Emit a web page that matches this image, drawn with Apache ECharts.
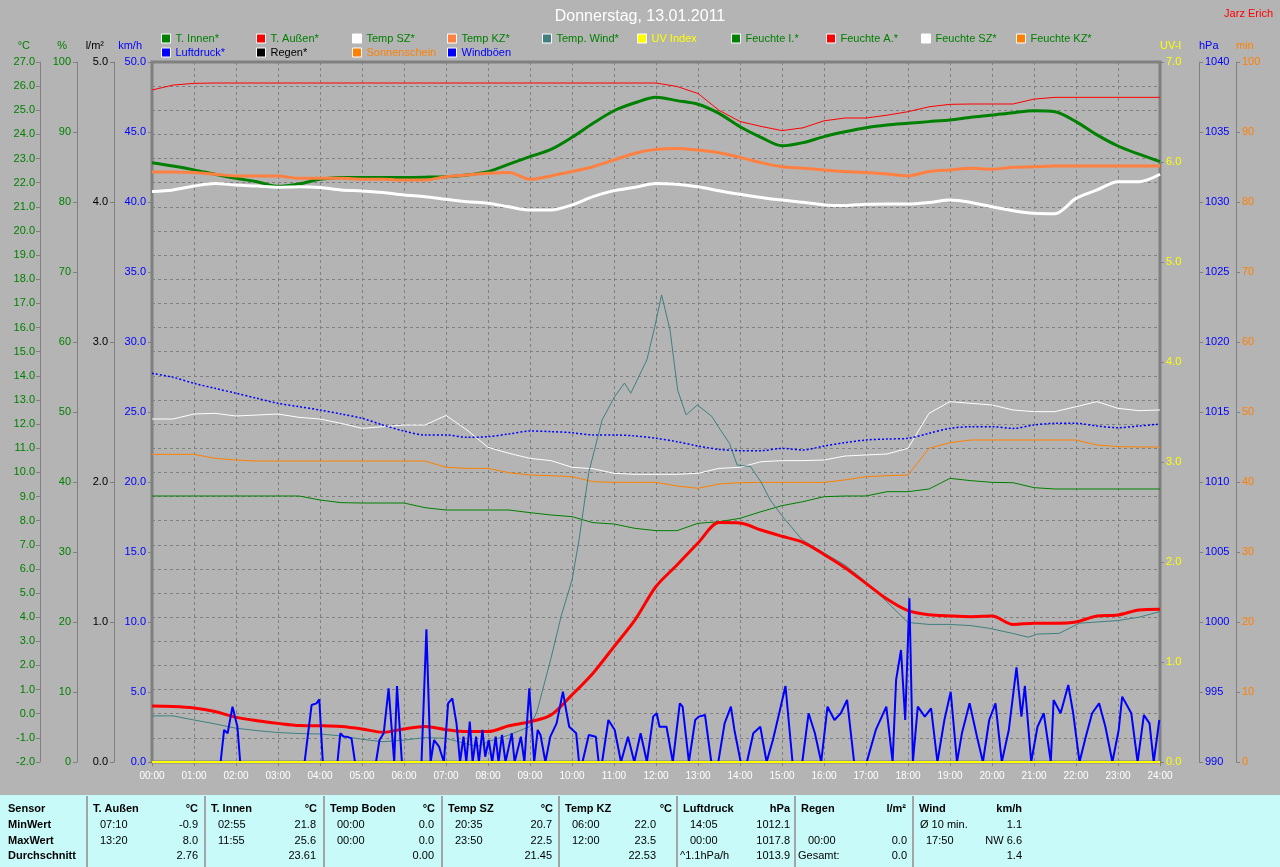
<!DOCTYPE html>
<html>
<head>
<meta charset="utf-8">
<script src="https://cdn.jsdelivr.net/npm/echarts@6/dist/echarts.min.js"></script>
<style>
html,body{margin:0;padding:0;background:#b4b4b4;}
#chart{width:1280px;height:867px;}
</style>
</head>
<body>
<div id="chart"></div>
<script>
// ---------- data (half-hourly 00:00 .. 24:00 unless noted) ----------
const tInnen = [22.83,22.69,22.53,22.35,22.18,22.04,21.85,21.95,22.14,22.21,22.22,22.22,22.22,22.23,22.25,22.32,22.46,22.77,23.08,23.38,23.88,24.46,24.98,25.31,25.54,25.40,25.25,24.87,24.32,23.88,23.53,23.66,23.91,24.11,24.28,24.39,24.46,24.53,24.60,24.71,24.80,24.90,24.98,24.94,24.53,23.98,23.52,23.18,22.87];
const tAussen = [0.32,0.30,0.24,0.09,-0.15,-0.29,-0.40,-0.49,-0.50,-0.53,-0.63,-0.77,-0.63,-0.53,-0.66,-0.74,-0.74,-0.50,-0.33,-0.05,0.78,1.68,2.78,3.89,5.27,6.16,7.07,7.92,7.90,7.61,7.35,7.10,6.60,6.05,5.40,4.75,4.27,4.10,4.05,4.02,4.05,3.70,3.75,3.75,3.80,4.05,4.09,4.30,4.33];
const tempSZ = [21.63,21.70,21.86,21.97,21.90,21.86,21.81,21.83,21.80,21.70,21.66,21.59,21.49,21.42,21.31,21.21,21.15,21.00,20.87,20.87,21.08,21.42,21.67,21.81,21.97,21.94,21.83,21.67,21.52,21.39,21.28,21.19,21.08,21.05,21.11,21.12,21.12,21.18,21.28,21.18,21.00,20.84,20.73,20.71,21.35,21.70,22.04,22.04,22.35];
const tempKZ = [22.44,22.44,22.42,22.35,22.28,22.28,22.28,22.18,22.18,22.18,22.14,22.14,22.11,22.11,22.25,22.32,22.39,22.42,22.14,22.28,22.46,22.66,22.94,23.22,23.38,23.42,23.35,23.24,23.05,22.83,22.66,22.60,22.53,22.46,22.42,22.36,22.28,22.46,22.53,22.60,22.56,22.64,22.66,22.69,22.69,22.69,22.69,22.69,22.69];
const feuchteI = [38.0,38.0,38.0,38.0,38.0,38.0,38.0,38.0,37.43,37.05,37.0,37.0,37.0,36.33,36.0,36.0,36.0,36.0,35.62,35.29,35.05,34.19,34.0,33.38,33.05,33.05,34.1,34.33,34.81,35.76,36.62,37.19,37.9,38.0,38.0,38.62,38.62,39.0,40.52,40.19,39.95,39.9,39.19,39.0,39.0,39.0,39.0,39.0,39.0];
const feuchteA = [96.0,96.7,96.95,97.0,97.0,97.0,97.0,97.0,97.0,97.0,97.0,97.0,97.0,97.0,97.0,97.0,97.0,97.0,97.0,97.0,97.0,97.0,97.0,97.0,97.0,96.5,95.5,93.1,91.5,90.8,90.2,90.6,91.6,92.0,92.0,92.4,92.9,93.6,93.95,94.0,94.0,94.0,94.7,94.95,94.95,94.95,94.95,94.95,94.95];
const feuchteSZ = [49.0,49.0,49.71,49.81,49.43,49.57,49.71,49.24,49.0,48.38,47.67,47.9,48.14,48.14,49.5,47.43,44.95,44.1,43.38,43.05,42.1,41.9,41.24,41.1,41.1,41.1,41.24,41.95,42.1,42.9,43.05,43.05,43.14,43.71,43.86,44.0,44.81,49.81,51.48,51.24,51.0,50.29,50.05,50.05,50.76,51.48,50.52,50.19,50.29];
const feuchteKZ = [43.95,43.95,43.95,43.38,43.14,43.0,43.0,43.0,43.0,43.0,43.0,43.0,43.0,43.0,42.1,41.95,41.95,41.33,41.0,40.9,40.76,40.05,39.95,39.95,39.95,39.43,39.1,39.71,39.9,39.95,39.95,39.95,39.95,40.3,40.76,40.9,41.0,44.81,45.62,46.0,46.0,46.0,46.0,46.0,46.0,45.29,45.05,45.0,45.0];
const luftdruck = [1017.76,1017.48,1017.05,1016.69,1016.34,1015.98,1015.62,1015.38,1015.14,1014.86,1014.55,1014.07,1013.64,1013.36,1013.36,1013.19,1013.24,1013.43,1013.64,1013.60,1013.52,1013.36,1013.36,1013.29,1013.12,1012.88,1012.57,1012.33,1012.24,1012.24,1012.40,1012.29,1012.57,1012.81,1013.00,1013.07,1013.12,1013.48,1013.83,1013.95,1013.95,1013.83,1014.07,1014.19,1014.19,1014.00,1013.88,1014.00,1014.14];
// Temp. Wind (minutes since midnight / °C)
const tempWindTimes = [0,30,60,90,120,150,180,210,240,270,300,330,360,390,420,450,465,480,510,540,550,570,585,600,610,624,643,661,675,684,707,718,728,740,751,763,779,800,809,825,836,855,870,883,900,929,960,990,1020,1050,1080,1110,1140,1170,1196,1229,1252,1265,1296,1325,1380,1410,1440];
const tempWindValues = [-0.09,-0.09,-0.26,-0.42,-0.60,-0.70,-0.78,-0.82,-0.84,-0.92,-1.06,-1.16,-1.09,-0.99,-1.02,-1.25,-1.36,-1.16,-0.88,-0.53,0.10,2.30,4.10,5.54,7.20,10.00,12.17,13.14,13.70,13.28,14.66,16.00,17.35,15.90,13.40,12.38,12.79,12.31,11.89,11.20,10.30,10.24,9.60,8.86,8.20,7.20,6.66,6.16,5.46,4.63,3.78,3.70,3.70,3.65,3.54,3.33,3.17,3.30,3.33,3.75,3.86,4.00,4.23];
// Windböen (minutes / km/h)
const windTimes = [0,98,103,108,115,122,126,218,223,228,235,239,244,265,269,274,278,285,290,320,325,331,338,346,350,357,385,392,398,403,410,417,423,429,435,440,445,449,454,458,463,467,472,476,481,486,491,495,500,505,514,518,527,532,539,546,551,555,562,569,578,587,592,596,606,610,615,624,634,638,643,652,661,670,680,689,698,707,716,721,725,735,744,754,758,767,776,781,790,799,809,818,827,832,841,850,859,869,878,887,896,905,915,929,938,947,956,965,975,984,993,1003,1021,1034,1049,1058,1063,1070,1076,1082,1087,1094,1104,1113,1122,1132,1141,1150,1157,1168,1178,1187,1196,1205,1214,1224,1235,1242,1247,1256,1265,1274,1284,1288,1298,1309,1316,1325,1334,1343,1353,1362,1372,1381,1386,1399,1408,1417,1425,1431,1439];
const windValues = [0,0,2.29,2.05,3.95,2.52,0,0,2.05,4.07,4.19,4.48,0,0,2.05,1.81,1.81,1.69,0,0,1.57,2.05,5.26,0,5.43,0,0,9.48,0,1.57,1.1,0,4.19,4.55,2.76,0,1.81,0,2.88,0,1.81,0,2.29,0.38,1.57,0,1.81,0,1.93,0,2.05,0,1.81,0,5.26,0,2.29,1.93,0,1.81,2.76,5.02,3.6,2.52,2.05,0,0,1.93,1.81,0,0,3.0,2.29,0,1.81,0,2.05,0,3.24,3.48,2.52,2.52,0,4.19,3.95,0,3.0,3.24,3.36,0,0,2.76,3.95,2.29,0,0,2.05,2.52,0,1.57,3.48,5.43,0,0,3.48,2.05,0,3.95,3.0,3.48,4.43,0,0,2.29,3.95,0,5.86,8.0,3.0,11.69,0,3.95,3.24,3.83,0,3.0,5.02,0,2.05,4.19,1.93,0,3.0,4.19,0,2.29,6.76,3.24,5.43,0,2.52,3.48,0,4.43,3.48,5.5,3.48,0,1.81,3.48,4.19,2.52,0,2.29,4.67,3.48,0,3.36,2.76,0,3.0];
// zero series (minutes / value)
const zeroTimes = [0, 1440];
const uvIndex = [0, 0];
const regen = [0, 0];
const sonnenschein = [0, 0];

// table
const rowLabels = ['Sensor','MinWert','MaxWert','Durchschnitt'];
const tableSensors = ['T. Außen','T. Innen','Temp Boden','Temp SZ','Temp KZ','Luftdruck','Regen','Wind'];
const tableUnits = ['°C','°C','°C','°C','°C','hPa','l/m²','km/h'];
const minTime = ['07:10','02:55','00:00','20:35','06:00','14:05','','Ø 10 min.'];
const minVal = ['-0.9','21.8','0.0','20.7','22.0','1012.1','','1.1'];
const maxTime = ['13:20','11:55','00:00','23:50','12:00','00:00','00:00','17:50'];
const maxVal = ['8.0','25.6','0.0','22.5','23.5','1017.8','0.0','NW 6.6'];
const avgLabel = ['','','','','','^1.1hPa/h','Gesamt:',''];
const avgVal = ['2.76','23.61','0.00','21.45','22.53','1013.9','0.0','1.4'];

// ---------- layout / styling ----------
const FONT = '"Liberation Sans", Arial, sans-serif';
const GRIDC = '#808080';
const halfHour = v => v.map((y, i) => [i * 30, y]);
const zip = (t, v) => t.map((x, i) => [x, v[i]]);

function line(name, data, yAxisIndex, color, width, extra) {
  return Object.assign({
    name, type: 'line', data, yAxisIndex, showSymbol: false, symbol: 'none',
    lineStyle: { color, width }, itemStyle: { color }, smooth: 0.3, animation: false
  }, extra || {});
}

function yAx(opts) {
  return {
    type: 'value', position: opts.pos, offset: opts.offset, min: opts.min, max: opts.max, interval: opts.interval,
    name: opts.name, nameLocation: 'end', nameGap: 16,
    nameTextStyle: { color: opts.color, fontSize: 11, fontFamily: FONT, align: opts.pos === 'left' ? 'right' : 'left',
      verticalAlign: 'middle', padding: opts.pos === 'left' ? [0, 10, 0, 0] : [0, 0, 0, 0] },
    axisLine: { show: opts.line !== false, onZero: false, lineStyle: { color: GRIDC, width: 1 } },
    axisTick: { show: true, length: 4, lineStyle: { color: GRIDC } },
    axisLabel: { color: opts.color, fontSize: 11, fontFamily: FONT, margin: opts.margin || 6,
      formatter: v => opts.dec ? v.toFixed(1) : String(v) },
    splitLine: { show: !!opts.split, lineStyle: { color: GRIDC, type: [3, 3], width: 1 } }
  };
}

const legendItems = [
  ['T. Innen*', 161, 0, '#008000', '#008000'],
  ['T. Außen*', 256, 0, '#ff0000', '#008000'],
  ['Temp SZ*', 352, 0, '#ffffff', '#008000'],
  ['Temp KZ*', 447, 0, '#ff8040', '#008000'],
  ['Temp. Wind*', 542, 0, '#408080', '#008000'],
  ['UV Index', 637, 0, '#ffff00', '#ffff00'],
  ['Feuchte I.*', 731, 0, '#008000', '#008000'],
  ['Feuchte A.*', 826, 0, '#ff0000', '#008000'],
  ['Feuchte SZ*', 921, 0, '#ffffff', '#008000'],
  ['Feuchte KZ*', 1016, 0, '#ff8000', '#008000'],
  ['Luftdruck*', 161, 1, '#0000ff', '#0000ff'],
  ['Regen*', 256, 1, '#000000', '#000000'],
  ['Sonnenschein', 352, 1, '#ff8000', '#ff8000'],
  ['Windböen', 447, 1, '#0000ff', '#0000ff']
];
const legends = legendItems.map(([n, x, row, c, tc]) => ({
  data: [n], left: x, top: row === 0 ? 33 : 47, padding: 0, itemWidth: 9, itemHeight: 9, icon: 'rect',
  selectedMode: false, itemStyle: { color: c, borderColor: '#ffffff', borderWidth: 1 },
  textStyle: { color: tc, fontSize: 11, fontFamily: FONT }
}));

// table graphics
const colLeft = [87, 205, 324, 442, 559, 677, 795, 913];
const valRight = [198, 316, 434, 552, 656, 790, 907, 1022];
const unitRight = [198, 317, 435, 553, 672, 790, 906, 1022];
const rowY = [809, 825, 841, 856];
const g = [];
g.push({ type: 'rect', shape: { x: 0, y: 795, width: 1280, height: 72 }, style: { fill: '#c8fafa' }, silent: true });
colLeft.forEach(x => g.push({ type: 'rect', shape: { x: x - 1, y: 796, width: 2, height: 71 }, style: { fill: '#a4a4a4' }, silent: true }));
function txt(s, x, y, align, bold) {
  if (!s) return;
  g.push({ type: 'text', x, y, style: { text: s, fill: '#000', font: (bold ? 'bold ' : '') + '11px ' + FONT, textAlign: align, textVerticalAlign: 'middle' }, silent: true });
}
rowLabels.forEach((r, i) => txt(r, 8, rowY[i], 'left', true));
function leftOff(s) { return /^\d/.test(s) ? 13 : (s.charAt(0) === 'Ø' ? 7 : 3); }
tableSensors.forEach((s, i) => {
  txt(s, colLeft[i] + 6, rowY[0], 'left', true);
  txt(tableUnits[i], unitRight[i], rowY[0], 'right', true);
  txt(minTime[i], colLeft[i] + leftOff(minTime[i]), rowY[1], 'left');
  txt(minVal[i], valRight[i], rowY[1], 'right');
  txt(maxTime[i], colLeft[i] + leftOff(maxTime[i]), rowY[2], 'left');
  txt(maxVal[i], valRight[i], rowY[2], 'right');
  txt(avgLabel[i], colLeft[i] + leftOff(avgLabel[i]), rowY[3], 'left');
  txt(avgVal[i], valRight[i], rowY[3], 'right');
});

const chart = echarts.init(document.getElementById('chart'), null, { renderer: 'canvas' });
chart.setOption({
  backgroundColor: '#b4b4b4',
  animation: false,
  title: [
    { text: 'Donnerstag, 13.01.2011', left: 'center', top: 4, textStyle: { color: '#ffffff', fontSize: 16, fontWeight: 'normal', fontFamily: FONT } },
    { text: 'Jarz Erich', right: 2, top: 3, textStyle: { color: '#ff0000', fontSize: 11, fontWeight: 'normal', fontFamily: FONT } }
  ],
  legend: legends,
  grid: { left: 152, right: 120, top: 62, bottom: 105, show: true, borderColor: GRIDC, borderWidth: 3, backgroundColor: 'transparent' },
  xAxis: {
    type: 'value', min: 0, max: 1440, interval: 60,
    axisLine: { show: false, onZero: false },
    axisTick: { show: true, length: 4, lineStyle: { color: GRIDC } },
    axisLabel: { color: '#ffffff', fontSize: 10, fontFamily: FONT, margin: 9,
      formatter: v => String(Math.round(v / 60)).padStart(2, '0') + ':00' },
    splitLine: { show: true, lineStyle: { color: GRIDC, type: [3, 3], width: 1 } }
  },
  yAxis: [
    yAx({ pos: 'left', offset: 112, min: -2, max: 27, interval: 1, name: '°C', color: '#008000', dec: true, split: true, margin: 5 }),
    yAx({ pos: 'left', offset: 75, min: 0, max: 100, interval: 10, name: '%', color: '#008000' }),
    yAx({ pos: 'left', offset: 38, min: 0, max: 5, interval: 1, name: 'l/m²', color: '#000000', dec: true }),
    yAx({ pos: 'left', offset: 0, min: 0, max: 50, interval: 5, name: 'km/h', color: '#0000ff', dec: true, line: false }),
    yAx({ pos: 'right', offset: 0, min: 0, max: 7, interval: 1, name: 'UV-I', color: '#ffff00', dec: true, line: false }),
    yAx({ pos: 'right', offset: 39, min: 990, max: 1040, interval: 5, name: 'hPa', color: '#0000ff' }),
    yAx({ pos: 'right', offset: 76, min: 0, max: 100, interval: 10, name: 'min', color: '#ff8000' })
  ],
  series: [
    line('Feuchte I.*', halfHour(feuchteI), 1, '#008000', 1, { smooth: false }),
    line('Feuchte A.*', halfHour(feuchteA), 1, '#ff0000', 1, { smooth: false }),
    line('Feuchte SZ*', halfHour(feuchteSZ), 1, '#ffffff', 1, { smooth: false }),
    line('Feuchte KZ*', halfHour(feuchteKZ), 1, '#ff8000', 1, { smooth: false }),
    line('Luftdruck*', halfHour(luftdruck), 5, '#0000ff', 1.5, { lineStyle: { color: '#0000ff', width: 1.5, type: [2, 2] } }),
    line('Temp. Wind*', zip(tempWindTimes, tempWindValues), 0, '#408080', 1, { smooth: false }),
    line('T. Innen*', halfHour(tInnen), 0, '#008000', 3),
    line('Temp KZ*', halfHour(tempKZ), 0, '#ff8040', 3),
    line('Temp SZ*', halfHour(tempSZ), 0, '#ffffff', 3),
    line('T. Außen*', halfHour(tAussen), 0, '#ff0000', 3),
    line('Windböen', zip(windTimes, windValues), 3, '#0000ff', 2, { smooth: false }),
    line('Regen*', zip(zeroTimes, regen), 2, '#000000', 2, { smooth: false, clip: false }),
    line('Sonnenschein', zip(zeroTimes, sonnenschein), 6, '#ff8000', 2, { smooth: false, clip: false }),
    line('UV Index', zip(zeroTimes, uvIndex), 4, '#ffff00', 2, { smooth: false, clip: false })
  ],
  graphic: g
});
</script>
</body>
</html>
